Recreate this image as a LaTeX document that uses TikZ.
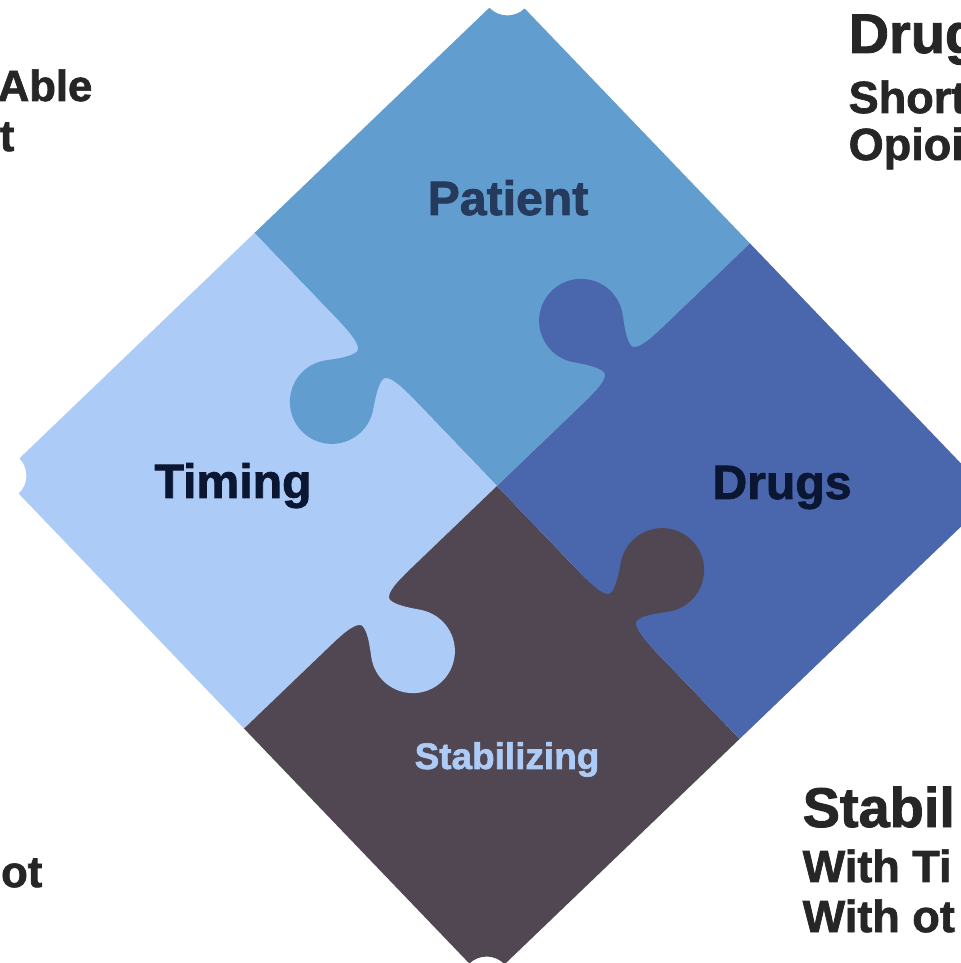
\documentclass[tikz,border=0pt]{standalone}
\usepackage{fontspec}
\setmainfont{Liberation Sans}[BoldFeatures={FakeBold=1.6}]
\usetikzlibrary{calc}

\definecolor{patientBlue}{HTML}{619DCF}
\definecolor{timingBlue}{HTML}{ADCBF7}
\definecolor{drugsBlue}{HTML}{4A66AD}
\definecolor{stabilGrey}{HTML}{504753}
\definecolor{labelNavy}{HTML}{0B1633}
\definecolor{patientNavy}{HTML}{263A5E}
\definecolor{sideText}{HTML}{262626}

\tikzset{
  pieceLabel/.style={font=\bfseries\fontsize{13.7}{16}\selectfont, inner sep=0pt, anchor=base},
  sideHead/.style={font=\bfseries\fontsize{15.9}{19}\selectfont, text=sideText, inner sep=0pt},
  sideLine/.style={font=\bfseries\fontsize{12.8}{15}\selectfont, text=sideText, inner sep=0pt},
  leftLine/.style={font=\bfseries\fontsize{12.4}{14}\selectfont, text=sideText, inner sep=0pt, anchor=base east},
}

\begin{document}
\begin{tikzpicture}[x=0.01cm, y=0.01cm]

	% frame of the slide cut-out
	\useasboundingbox (0,0) rectangle (961,963);
	\clip (0,0) rectangle (961,963);

	% puzzle
	\def \half {350.5};
	\def \notch {25};
	\coordinate (puzzleCentre) at (497,477);
	\begin{scope}[shift={(puzzleCentre)}, rotate=43.8]
		% quarters, with the notch at the outer corner
		\foreach \turn/\col in {0/patientBlue, 90/timingBlue, 180/stabilGrey, 270/drugsBlue} {
			\fill [\col, rotate=\turn] (0,0) -- (\half,0) -- (\half,{\half-\notch}) arc [start angle=-90, end angle=-180, radius=\notch] -- (0,\half) -- cycle;
		}
		% knobs into the next quarter
		\foreach \turn/\col in {0/patientBlue, 90/timingBlue, 180/stabilGrey, 270/drugsBlue} {
			\fill [\col, rotate=\turn] (0.5,128) -- (0,128) .. controls (0,145) and (-3,156) .. (-8,156) .. controls (-16,156) and (-28.7,146.3) .. (-36.9,140.6) arc [start angle=-55, end angle=-305, radius=42] .. controls (-28.7,203.7) and (-16,194) .. (-8,194) .. controls (-3,194) and (0,205) .. (0,222) -- (0.5,222) -- cycle;
		}
	\end{scope}

	% labels on the pieces
	\node (patientLabel) [pieceLabel, text=patientNavy] at (508,748) {Patient};
	\node (timingLabel) [pieceLabel, text=labelNavy] at (233,465) {Timing};
	\node (drugsLabel) [pieceLabel, text=labelNavy] at (782,464) {Drugs};
	\node (stabilLabel) [pieceLabel, text=timingBlue, font=\bfseries\fontsize{10.5}{12}\selectfont] at (507,194) {Stabilizing};

	% side texts, cut by the frame
	\node (drugHead) [sideHead, anchor=base west] at (848,910) {Drug};
	\node (drugLineA) [sideLine, anchor=base west] at (848,850) {Short};
	\node (drugLineB) [sideLine, anchor=base west] at (848,803) {Opioi};
	\node (stabilHead) [sideHead, anchor=base west] at (802,136) {Stabil};
	\node (stabilLineA) [sideLine, anchor=base west] at (802,81) {With Ti};
	\node (stabilLineB) [sideLine, anchor=base west] at (802,31) {With ot};
	\node (patientLineA) [leftLine] at (93,862) {Able};
	\node (patientLineB) [leftLine] at (15,812) {t};
	\node (timingLine) [leftLine] at (43,76) {ot};

\end{tikzpicture}
\end{document}
